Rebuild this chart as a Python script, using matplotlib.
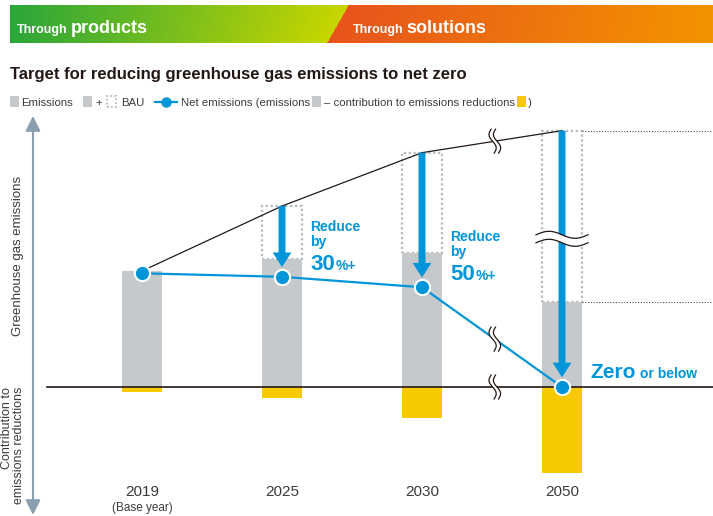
import numpy as np
import matplotlib
matplotlib.use('Agg')
import matplotlib.pyplot as plt
import matplotlib.transforms as mtransforms
from matplotlib.patches import Rectangle, Polygon

plt.rcParams['font.family'] = ['Liberation Sans', 'DejaVu Sans']

# data (arbitrary units, 2019 emissions = 100; 2050 is drawn past an axis break)
years = ['2019', '2025', '2030', '2050']
year_notes = ['(Base year)', '', '', '']
emissions = [100, 110, 115.5, 73]
contribution = [4.3, 9.5, 27, 74]
bau = [np.nan, 156, 202, 221]
net = [98, 95, 86, 0]
reduce_pct = ['', '30', '50', '']

BLUE = '#0095d9'
GRAY = '#c5c9cc'
YELLOW = '#f5c800'
DARK = '#231815'
TXT = '#3e3a39'

W, H = 713, 516
fig = plt.figure(figsize=(W / 100, H / 100), dpi=100)
ax = fig.add_axes([0, 0, 1, 1])
# category 0 sits at px 142, 140 px apart; zero line at px 387 from top
X0, DX, Y0, PPU = 142, 140, 387, 1.16
ax.set_xlim(-X0 / DX, (W - X0) / DX)
ax.set_ylim(-(H - Y0) / PPU, Y0 / PPU)
ax.axis('off')

ID = mtransforms.IdentityTransform()
def P(x, y):
    return (x, H - y)

renderer = fig.canvas.get_renderer()

def chain(x, y, parts, gap=3):
    for s, size, color, weight in parts:
        t = fig.text(x, H - y, s, transform=ID, fontsize=size, color=color,
                     fontweight=weight, va='baseline', ha='left')
        x = t.get_window_extent(renderer).x1 + gap
    return x

# header band
hx0, hy0, hy1 = 10, 5, 43
ax_h = fig.add_axes([hx0 / W, 1 - hy1 / H, (W - hx0) / W, (hy1 - hy0) / H])
nw, nh = W - hx0, hy1 - hy0
cols = np.arange(nw)[None, :].repeat(nh, 0)
rows = np.arange(nh)[:, None].repeat(nw, 1)
edge = (348 - hx0) - 21 * rows / (nh - 1)
g = np.clip(cols / edge, 0, 1)[..., None]
green = (1 - g) * np.array([42, 166, 58]) + g * np.array([200, 214, 0])
o = np.clip((cols - edge) / (nw - edge), 0, 1)[..., None]
orange = (1 - o) * np.array([232, 84, 28]) + o * np.array([243, 148, 0])
img = np.where((cols < edge)[..., None], green, orange) / 255
ax_h.imshow(img, aspect='auto', extent=(0, 1, 0, 1))
ax_h.axis('off')

chain(17, 33, [('Through', 9, 'white', 'bold'), ('products', 13, 'white', 'bold')])
chain(353, 33, [('Through', 9, 'white', 'bold'), ('solutions', 13, 'white', 'bold')])

# title
fig.text(10, H - 79, 'Target for reducing greenhouse gas emissions to net zero',
         transform=ID, fontsize=12, fontweight='bold', color=DARK, va='baseline')

# legend row
ly = 106
FS = 8.2
def sq(x, color, dotted=False):
    if dotted:
        r = Rectangle(P(x, ly + 1), 9, 11, transform=ID, fill=False, ec='#b5babe',
                      lw=1.3, ls=(0, (1, 1.2)))
    else:
        r = Rectangle(P(x, ly + 1), 9, 11, transform=ID, color=color, lw=0)
    fig.patches.append(r)
    return x + 10

x = sq(10, GRAY)
x = chain(x + 1, ly, [('Emissions', FS, TXT, 'normal')]) + 7
x = sq(x, GRAY)
x = chain(x + 3, ly, [('+', FS, TXT, 'normal')]) + 2
x = sq(x, None, dotted=True)
x = chain(x + 4, ly, [('BAU', FS, TXT, 'normal')]) + 7
fig.lines.append(plt.Line2D([x, x + 22], [H - ly + 4, H - ly + 4], transform=ID,
                            color=BLUE, lw=1.6))
fig.lines.append(plt.Line2D([x + 11], [H - ly + 4], transform=ID, marker='o', ms=6.5,
                            mfc=BLUE, mec=BLUE))
x = chain(x + 26, ly, [('Net emissions (emissions', FS, TXT, 'normal')], gap=2)
x = sq(x, GRAY)
x = chain(x + 2, ly, [('\u2013 contribution to emissions reductions', FS, TXT, 'normal')], gap=2)
x = sq(x, YELLOW)
chain(x + 1, ly, [(')', FS, TXT, 'normal')])

# vertical axis with arrows at both ends
ax.annotate('', xy=P(33, 116), xytext=P(33, 515), xycoords=ID, textcoords=ID,
            arrowprops=dict(arrowstyle='<|-|>,head_length=0.5,head_width=0.25',
                            mutation_scale=18, color='#8a9eae', lw=1.5,
                            shrinkA=0, shrinkB=0))
fig.text(18, H - 256, 'Greenhouse gas emissions', transform=ID, rotation=90,
         ha='center', va='center', fontsize=9.5, color=TXT)
fig.text(13, H - 387, 'Contribution to\nemissions reductions', transform=ID,
         rotation=90, rotation_mode='anchor', ha='right', va='center',
         multialignment='right', fontsize=9, color=TXT, linespacing=1.1)

xs = np.arange(len(years))
bw = 40 / DX
emis = np.array(emissions, float)
contr = np.array(contribution, float)
bau_a = np.array(bau, float)
net_a = np.array(net, float)

ax.bar(xs, emis, width=bw, color=GRAY, zorder=2)
ax.bar(xs, -contr, width=bw, color=YELLOW, zorder=2)
for i in xs:
    if not np.isnan(bau_a[i]):
        ax.add_patch(Rectangle((xs[i] - bw / 2, emis[i]), bw, bau_a[i] - emis[i],
                               fill=False, ec='#b5babe', lw=1.6, ls=(0, (1, 1.2)), zorder=1))

# dotted guides to the right of 2050
xr = ax.get_xlim()[1]
for v in (bau_a[-1], emis[-1]):
    ax.plot([xs[-1] + bw / 2, xr], [v, v], color='#4d4d4d', lw=0.8, ls=(0, (1, 1.5)), zorder=1)

# zero line
ax.plot([(47 - X0) / DX, xr], [0, 0], color=DARK, lw=1.2, zorder=3)

# BAU line and net emissions
bau_line = np.where(np.isnan(bau_a), emis, bau_a)
ax.plot(xs, bau_line, color=DARK, lw=0.9, zorder=3)
ax.plot(xs, net_a, color=BLUE, lw=1.6, zorder=4)

# reduction arrows
for i in xs:
    if not np.isnan(bau_a[i]):
        ax.annotate('', xy=(xs[i], net_a[i]), xytext=(xs[i], bau_a[i]),
                    arrowprops=dict(arrowstyle='simple,head_width=1.35,head_length=1.05,tail_width=0.5',
                                    mutation_scale=10, color=BLUE, lw=0,
                                    shrinkA=0, shrinkB=7), zorder=5)

# axis-break marks
def vbreak(xc, yc):
    t = np.linspace(0, 1, 50)
    yy = yc + (t - 0.5) * 24
    base = xc + 2.8 * np.sin(2 * np.pi * t) - (t - 0.5) * 3
    a, b = base - 2.2, base + 2.2
    ax.add_patch(Polygon(np.c_[np.r_[a, b[::-1]], np.r_[yy, yy[::-1]]], transform=ID,
                         color='white', lw=0, zorder=7))
    for s in (a, b):
        ax.plot(s, yy, color=DARK, lw=0.9, transform=ID, zorder=8)

def hbreak(xc, yc):
    t = np.linspace(0, 1, 60)
    xx = xc + (t - 0.5) * 52
    base = yc + 3.5 * np.sin(2 * np.pi * t)
    a, b = base - 4, base + 4
    ax.add_patch(Polygon(np.c_[np.r_[xx, xx[::-1]], np.r_[a, b[::-1]]], transform=ID,
                         color='white', lw=0, zorder=7))
    for s in (a, b):
        ax.plot(xx, s, color=DARK, lw=0.9, transform=ID, zorder=8)

xb = 2.52
for line in (bau_line, net_a, np.zeros(len(xs))):
    yb = np.interp(xb, xs, line)
    vbreak(*ax.transData.transform((xb, yb)))
hbreak(*ax.transData.transform((xs[-1], emis[-1] + 0.37 * (bau_a[-1] - emis[-1]))))

# net emissions markers
ax.plot(xs, net_a, 'o', ms=11, mfc=BLUE, mec='white', mew=1.5, zorder=9)

# reduction labels
for i in xs:
    if reduce_pct[i]:
        px, py = ax.transData.transform((xs[i] + bw / 2, net_a[i]))
        fx = px + 8
        for s, dy in (('Reduce', 46), ('by', 31)):
            fig.text(fx, py + dy, s, transform=ID, fontsize=10, fontweight='bold',
                     color=BLUE, va='baseline')
        t = fig.text(fx, py + 7, reduce_pct[i], transform=ID, fontsize=16,
                     fontweight='bold', color=BLUE, va='baseline')
        x1 = t.get_window_extent(renderer).x1
        fig.text(x1 + 1, py + 7, '%+', transform=ID, fontsize=10, fontweight='bold',
                 color=BLUE, va='baseline')
px, py = ax.transData.transform((xs[-1], net_a[-1]))
chain(px + 28, H - py - 9, [('Zero', 15, BLUE, 'bold'), ('or below', 10, BLUE, 'bold')], gap=4)

# year labels
yt = mtransforms.blended_transform_factory(ax.transData, ID)
for i in xs:
    ax.text(xs[i], H - 492, years[i], transform=yt, ha='center', va='center',
            fontsize=11, color=TXT)
    if year_notes[i]:
        ax.text(xs[i], H - 508, year_notes[i], transform=yt, ha='center', va='center',
                fontsize=8.5, color=TXT)

fig.savefig('out.png', dpi=100)
